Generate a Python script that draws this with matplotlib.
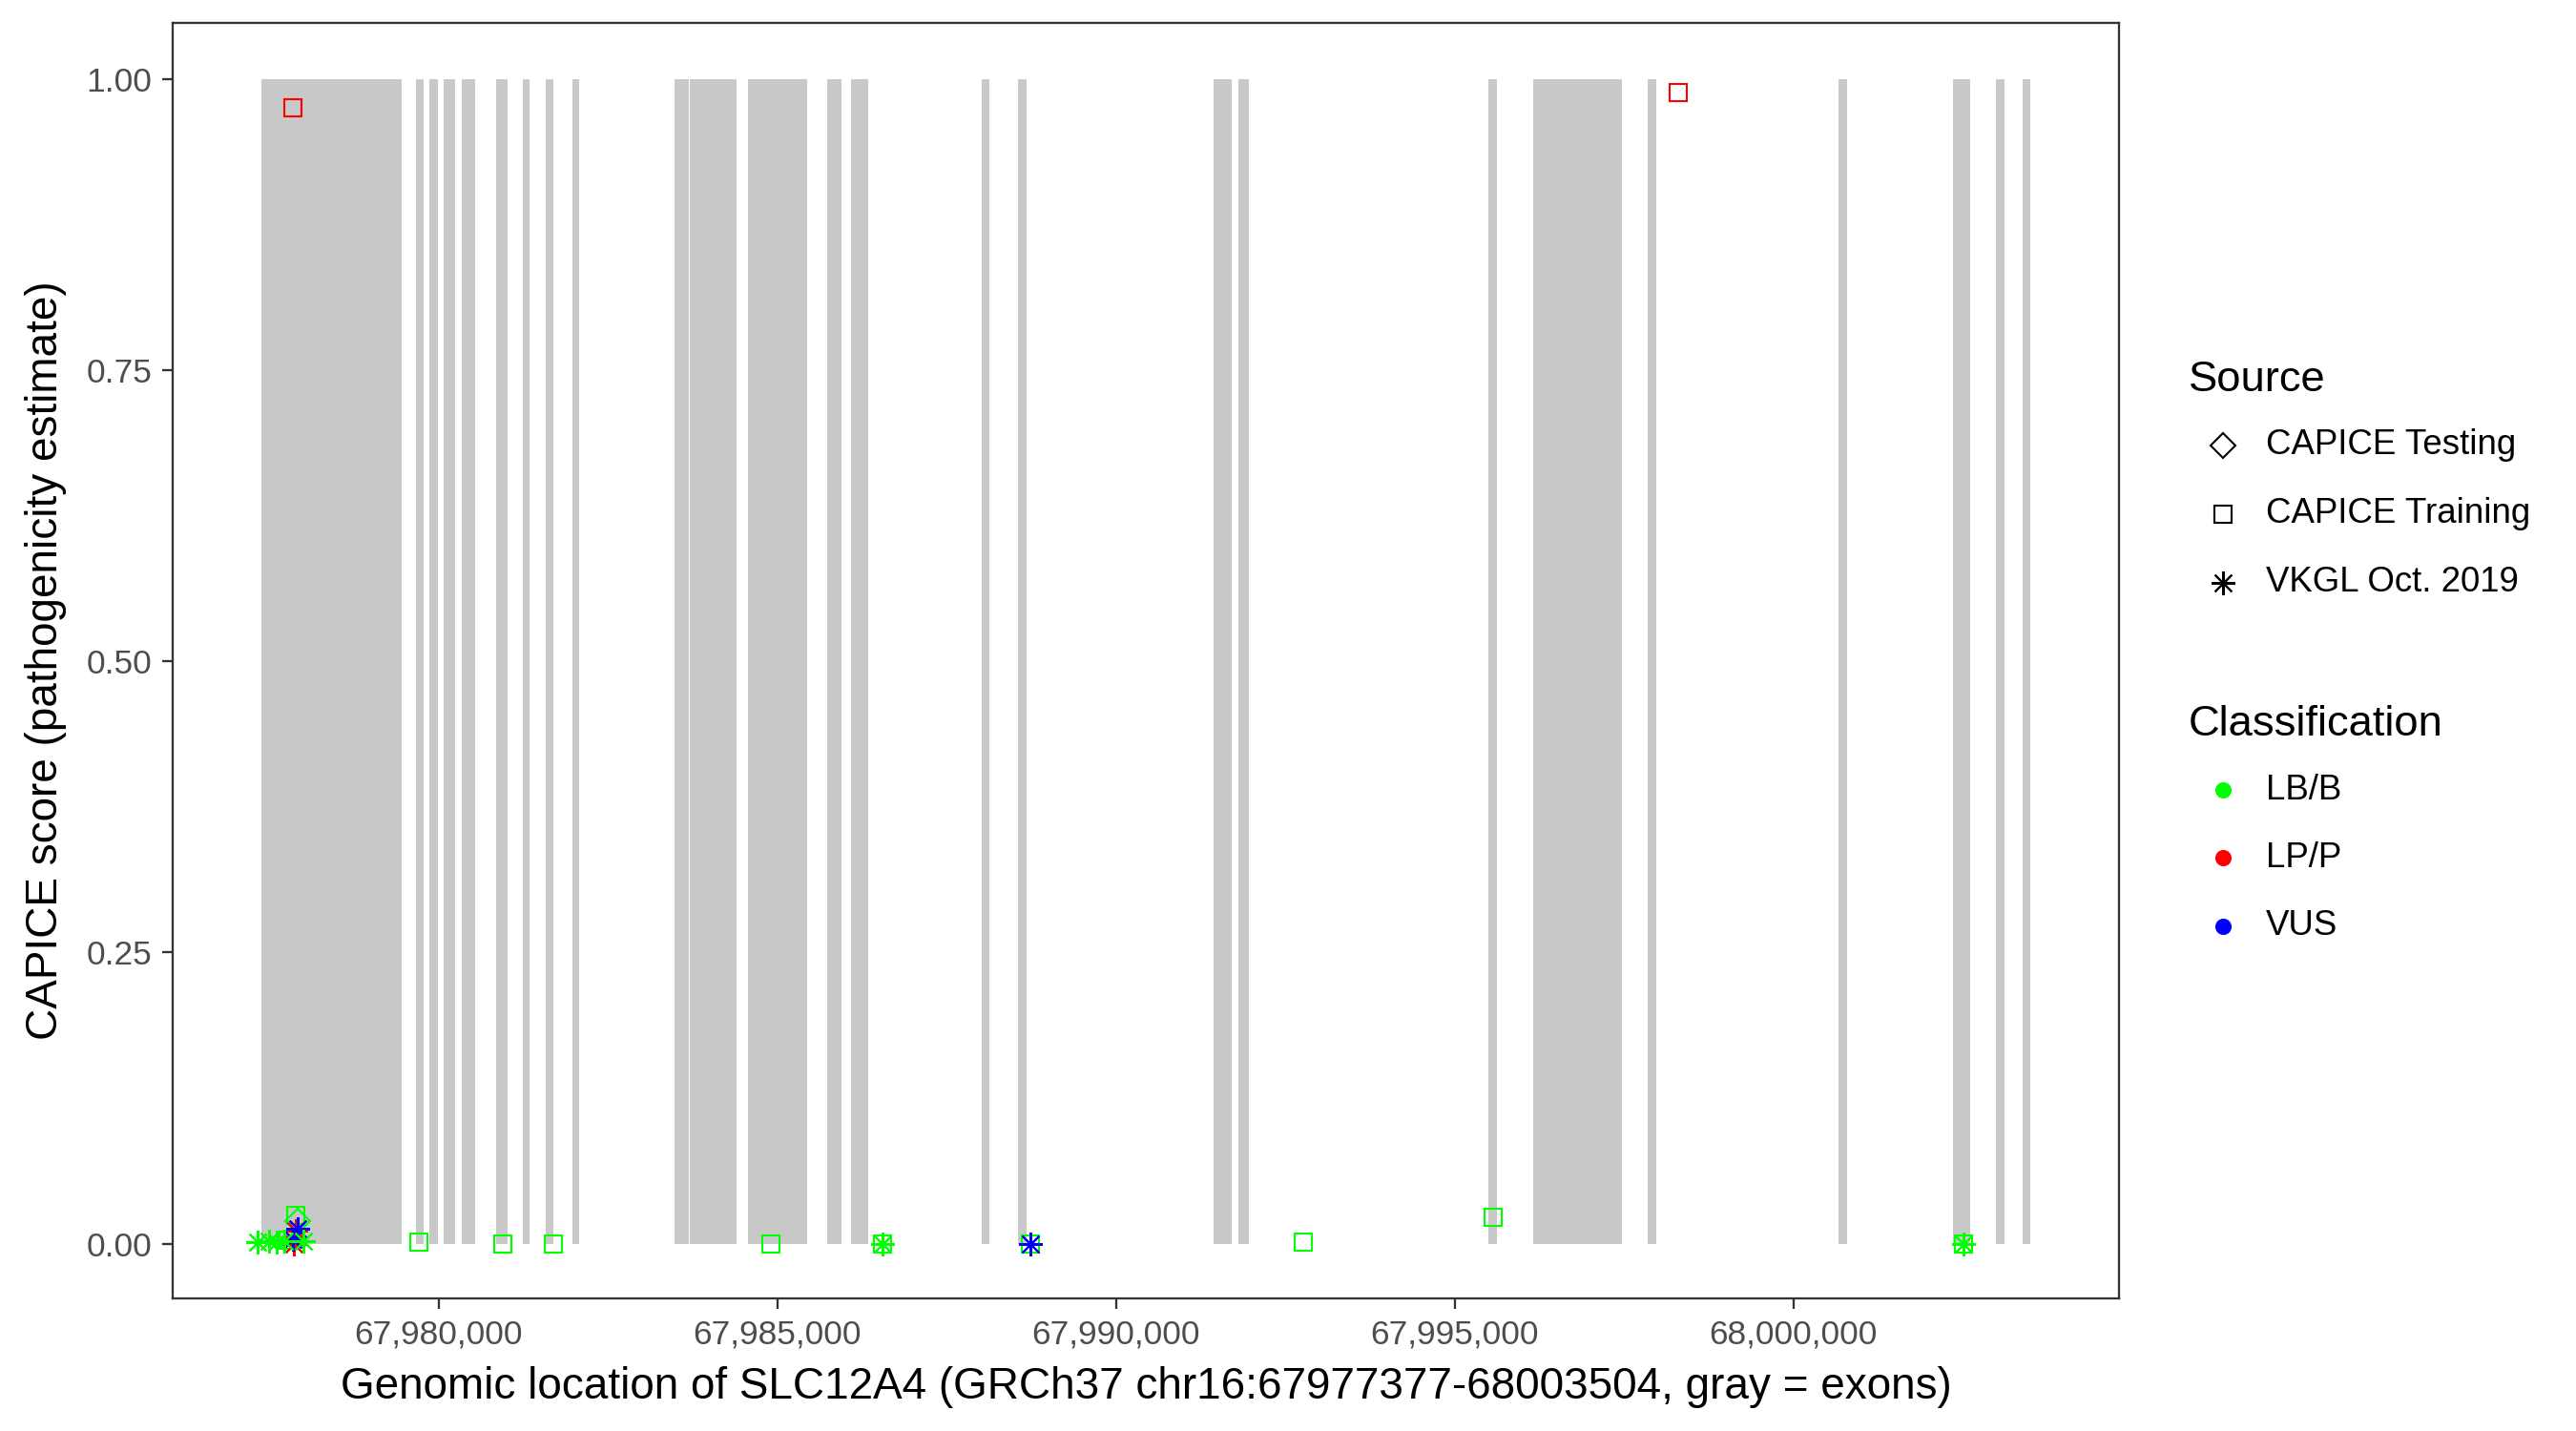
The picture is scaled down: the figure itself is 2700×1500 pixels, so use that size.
import matplotlib
matplotlib.use('Agg')
import matplotlib.pyplot as plt
from matplotlib.lines import Line2D
from matplotlib.ticker import FuncFormatter

plt.rcParams['font.family'] = ['Liberation Sans', 'DejaVu Sans']

# exons of SLC12A4 (GRCh37, chr16)
exon_starts = [67977377, 67979666, 67979861, 67980075, 67980338, 67980847, 67981244,
               67981578, 67981974, 67983483, 67983709, 67984565, 67985735, 67986087,
               67988018, 67988553, 67991437, 67991804, 67995498, 67996161, 67997851,
               68000672, 68002361, 68002990, 68003390]
exon_ends = [67979458, 67979779, 67979986, 67980238, 67980540, 67981017, 67981338,
             67981691, 67982074, 67983691, 67984396, 67985439, 67985948, 67986338,
             67988130, 67988678, 67991706, 67991966, 67995623, 67997474, 67997977,
             68000798, 68002612, 68003115, 68003504]

gene_start, gene_end = 67977377, 68003504

# variants per source
training_pos = [67977884, 67977780, 67979706, 67980950, 67981696, 67984898, 67986547,
                67988729, 67992769, 67995573, 68002509, 67977846, 67998301]
training_score = [0.024, 0.003, 0.001, 0.0, 0.0, 0.0, 0.0, 0.0, 0.001, 0.023, 0.0, 0.975, 0.988]
training_class = ['LB/B'] * 11 + ['LP/P', 'LP/P']

testing_pos = [67977912]
testing_score = [0.019]
testing_class = ['LB/B']

vkgl_pos = [67977881, 67977864, 67977912, 67977842, 67988729, 67977325, 67977494,
            67977607, 67977719, 67978001, 67986547, 68002509]
vkgl_score = [0.011, 0.0, 0.013, 0.004, 0.0, 0.001, 0.002, 0.001, 0.002, 0.002, 0.0, 0.0]
vkgl_class = ['LP/P', 'LP/P', 'VUS', 'VUS', 'VUS'] + ['LB/B'] * 7

class_colors = {'LB/B': '#00FF00', 'LP/P': '#FF0000', 'VUS': '#0000FF'}
source_names = ['CAPICE Testing', 'CAPICE Training', 'VKGL Oct. 2019']
source_markers = {'CAPICE Testing': ('D', 8.5), 'CAPICE Training': ('s', 8.6),
                  'VKGL Oct. 2019': ((8, 2, 0), 12)}

W, H = 2700, 1500
fig = plt.figure(figsize=(18, 10), dpi=150)
ax = fig.add_axes([181 / W, 1 - 1361 / H, (2221 - 181) / W, (1361 - 24) / H])

# exons as gray bars
widths = [e - s for s, e in zip(exon_starts, exon_ends)]
ax.bar(exon_starts, [1] * len(exon_starts), width=widths, bottom=0, align='edge',
       color='#C8C8C8', linewidth=0, zorder=1)


def draw_points(pos, score, cls, source):
    marker, size = source_markers[source]
    for x, y, c in zip(pos, score, cls):
        ax.plot(x, y, linestyle='none', marker=marker, markersize=size,
                markerfacecolor='none', markeredgecolor=class_colors[c],
                markeredgewidth=1.0, zorder=3)


draw_points(training_pos, training_score, training_class, 'CAPICE Training')
draw_points(testing_pos, testing_score, testing_class, 'CAPICE Testing')
draw_points(vkgl_pos, vkgl_score, vkgl_class, 'VKGL Oct. 2019')

pad = (gene_end - gene_start) * 0.05
ax.set_xlim(gene_start - pad, gene_end + pad)
ax.set_ylim(-0.047, 1.048)
ax.set_xticks([67980000, 67985000, 67990000, 67995000, 68000000])
ax.set_yticks([0, 0.25, 0.5, 0.75, 1.0])
ax.xaxis.set_major_formatter(FuncFormatter(lambda v, p: f'{int(v):,}'))
ax.yaxis.set_major_formatter(FuncFormatter(lambda v, p: f'{v:.2f}'))
ax.tick_params(axis='both', labelsize=17, labelcolor='#4D4D4D', color='#333333',
               length=5.3, width=1.1, pad=5)
for sp in ax.spines.values():
    sp.set_color('#333333')
    sp.set_linewidth(1.1)

ax.set_xlabel('Genomic location of SLC12A4 (GRCh37 chr16:67977377-68003504, gray = exons)',
              fontsize=22, labelpad=8)
ax.set_ylabel('CAPICE score (pathogenicity estimate)', fontsize=22, labelpad=10)

# legends drawn by hand (ggplot style)
def fx(px):
    return px / W


def fy(py):
    return 1 - py / H


fig.text(fx(2294), fy(398), 'Source', fontsize=21.8, va='center', ha='left')
for name, yy in zip(source_names, [466.7, 539, 611]):
    marker, size = source_markers[name]
    fig.add_artist(Line2D([fx(2330)], [fy(yy)], transform=fig.transFigure, linestyle='none',
                          marker=marker, markersize=size, markerfacecolor='none',
                          markeredgecolor='black', markeredgewidth=1.0))
    fig.text(fx(2375), fy(yy), name, fontsize=17.6, va='center', ha='left')

fig.text(fx(2294), fy(759.4), 'Classification', fontsize=21.8, va='center', ha='left')
for name, yy in zip(['LB/B', 'LP/P', 'VUS'], [828, 899, 971]):
    fig.add_artist(Line2D([fx(2330)], [fy(yy)], transform=fig.transFigure, linestyle='none',
                          marker='o', markersize=7.2, markerfacecolor=class_colors[name],
                          markeredgecolor=class_colors[name]))
    fig.text(fx(2375), fy(yy), name, fontsize=17.6, va='center', ha='left')

fig.savefig('out.png', dpi=150)
